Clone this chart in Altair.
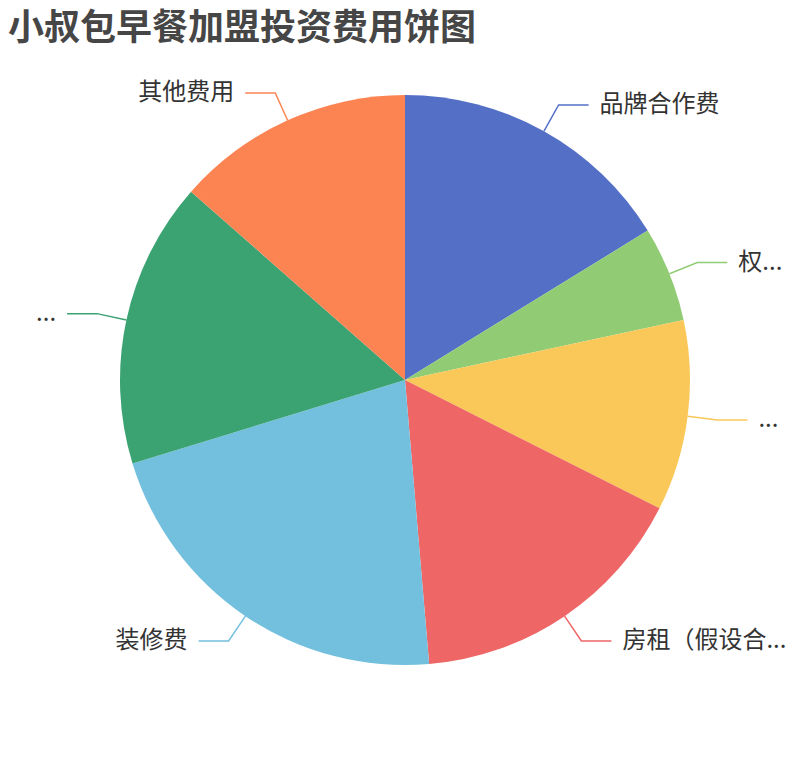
import altair as alt
import numpy as np
import pandas as pd

# data
labels = ["品牌合作费", "权...", "...", "房租（假设合...", "装修费", "...", "其他费用"]
values = [3, 1, 2, 3, 4, 3, 2.5]
colors = ["#5470c6", "#91cc75", "#fac858", "#ee6666", "#73c0de", "#3ba272", "#fc8452"]

# style constants
W, H = 794, 656
R = 285
LEN1, LEN2, GAP = 30, 30, 11
FONT = "Noto Sans CJK SC"

keys = [f"s{i}" for i in range(len(labels))]
pie_df = pd.DataFrame({"k": keys, "idx": list(range(len(labels))), "label": labels, "value": values})

vals = np.array(values, dtype=float)
cum = np.cumsum(vals)
mid = (cum - vals / 2) / vals.sum() * 2 * np.pi

line_rows, text_rows = [], []
for i, a in enumerate(mid):
    sx, cy = np.sin(a), np.cos(a)
    side = 1 if sx >= 0 else -1
    p1 = (R * sx, R * cy)
    p2 = ((R + LEN1) * sx, (R + LEN1) * cy)
    p3 = (p2[0] + side * LEN2, p2[1])
    for j, p in enumerate([p1, p2, p3]):
        line_rows.append({"k": keys[i], "pt": j, "x": p[0], "y": p[1]})
    text_rows.append({"k": keys[i], "label": labels[i], "x": p3[0] + side * GAP, "y": p3[1], "side": side})
line_df = pd.DataFrame(line_rows)
text_df = pd.DataFrame(text_rows)

xs = alt.Scale(domain=[-W / 2, W / 2], nice=False, zero=False)
ys = alt.Scale(domain=[-H / 2, H / 2], nice=False, zero=False)
cscale = alt.Scale(domain=keys, range=colors)

pie = alt.Chart(pie_df).mark_arc(outerRadius=R).encode(
    theta=alt.Theta("value:Q", stack=True),
    color=alt.Color("k:N", scale=cscale, legend=None),
    order=alt.Order("idx:Q"),
)

lines = alt.Chart(line_df).mark_line(strokeWidth=1.5).encode(
    x=alt.X("x:Q", scale=xs, axis=None),
    y=alt.Y("y:Q", scale=ys, axis=None),
    color=alt.Color("k:N", scale=cscale, legend=None),
    detail="k:N",
    order=alt.Order("pt:Q"),
)

txt_r = alt.Chart(text_df[text_df.side > 0]).mark_text(
    align="left", baseline="middle", fontSize=24, font=FONT, color="#333333"
).encode(x=alt.X("x:Q", scale=xs, axis=None), y=alt.Y("y:Q", scale=ys, axis=None), text="label:N")

txt_l = alt.Chart(text_df[text_df.side < 0]).mark_text(
    align="right", baseline="middle", fontSize=24, font=FONT, color="#333333"
).encode(x=alt.X("x:Q", scale=xs, axis=None), y=alt.Y("y:Q", scale=ys, axis=None), text="label:N")

chart = alt.layer(pie, lines, txt_r, txt_l).properties(
    width=W,
    height=H,
    padding={"top": 3, "left": 0, "right": 0, "bottom": 0},
    title=alt.TitleParams(
        "小叔包早餐加盟投资费用饼图",
        anchor="start",
        fontSize=36,
        font=FONT,
        fontWeight="bold",
        color="#464646",
        offset=4,
    ),
).configure_view(stroke=None)

chart.save("out.html", embed_options={"renderer": "svg", "actions": False})
